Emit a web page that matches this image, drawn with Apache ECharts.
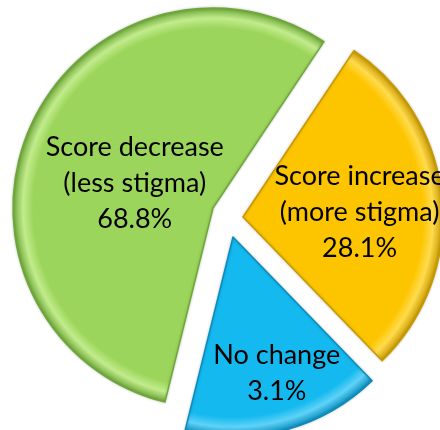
<!DOCTYPE html>
<html>
<head>
<meta charset="utf-8">
<script src="https://cdn.jsdelivr.net/npm/echarts@6/dist/echarts.min.js"></script>
<style>
html,body{margin:0;padding:0;background:#fff;}
#chart{width:440px;height:430px;}
</style>
</head>
<body>
<div id="chart"></div>
<script>
// Slice order clockwise from the top-right: increase, no change, decrease
const categories = ['Score increase\n(more stigma)', 'No change', 'Score decrease\n(less stigma)'];
// Angular shares as drawn in the picture (percent of the full circle)
const drawnShares = [28.4, 16.1, 55.5];
// Percentages printed on the slices
const percentLabels = ['28.1%', '3.1%', '68.8%'];
const colors = ['#FDC500', '#14B9EF', '#9CD55B'];
const rimLight = ['#FFDB4D', '#5FD2F7', '#C2EC8C'];
const rimDark = ['#C99A00', '#0A8DBE', '#6FA83A'];

// per-slice layout (explosion centre and label nudge)
const centers = [[243, 217], [233, 237], [213, 208]];
const labelNudges = [[14, 5], [17, 37], [16, 17]];
const R = 200;

const chart = echarts.init(document.getElementById('chart'), null, {renderer: 'canvas'});

const series = categories.map(function (_, k) {
  const c = centers[k];
  return {
    type: 'pie',
    center: c,
    radius: [0, R],
    startAngle: 90 - 33.7,
    clockwise: true,
    silent: true,
    animation: false,
    labelLayout: {dx: labelNudges[k][0], dy: labelNudges[k][1]},
    data: categories.map(function (name, i) {
      const on = i === k;
      return {
        name: name,
        value: drawnShares[i],
        itemStyle: on ? {
          color: {
            type: 'radial', x: c[0], y: c[1], r: R, global: true,
            colorStops: [
              {offset: 0, color: colors[i]},
              {offset: 0.90, color: colors[i]},
              {offset: 0.95, color: rimLight[i]},
              {offset: 1, color: rimDark[i]}
            ]
          },
          borderColor: rimDark[i],
          borderWidth: 1.5,
          shadowColor: 'rgba(0,0,0,0.2)',
          shadowBlur: 3
        } : {color: 'rgba(0,0,0,0)', borderWidth: 0},
        label: on ? {
          show: true,
          position: 'inside',
          formatter: function () { return name + '\n' + percentLabels[i]; },
          fontFamily: 'Lato, "Open Sans", sans-serif',
          fontSize: 27,
          lineHeight: 36,
          color: '#000',
          align: 'center'
        } : {show: false},
        labelLine: {show: false}
      };
    })
  };
});

chart.setOption({
  animation: false,
  series: series
});
</script>
</body>
</html>
